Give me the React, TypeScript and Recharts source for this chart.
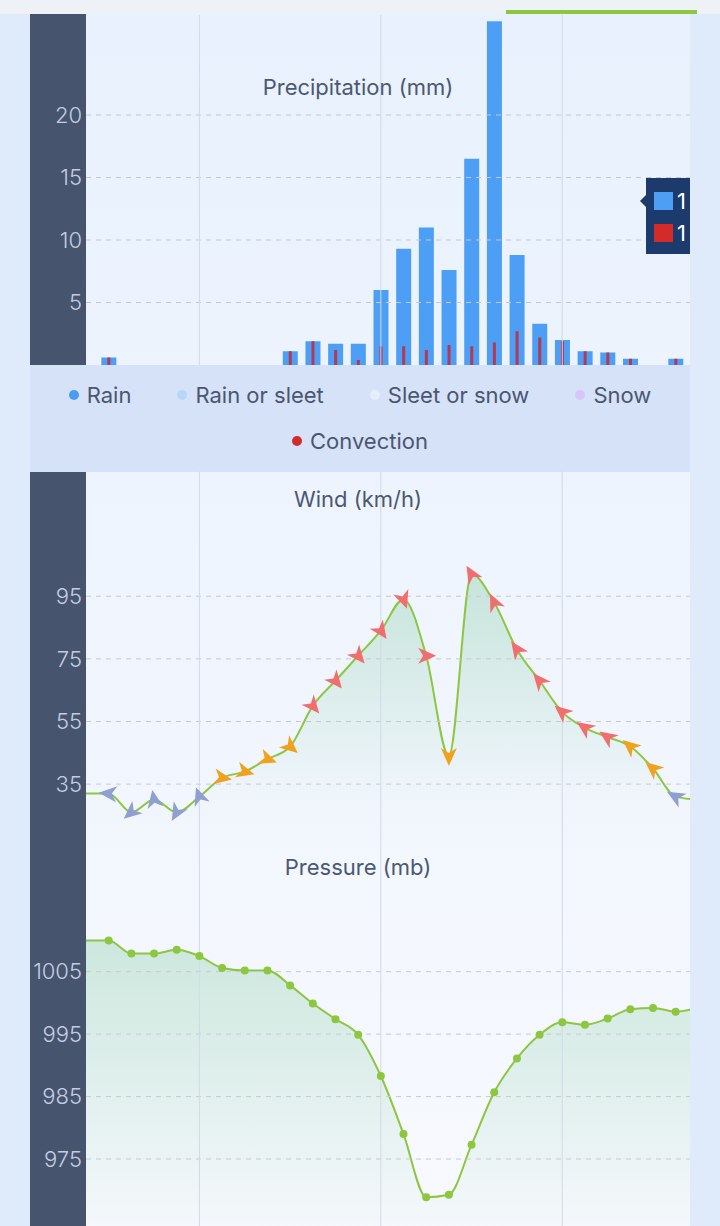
import {
  Area,
  AreaChart,
  Bar,
  BarChart,
  ReferenceLine,
  XAxis,
  YAxis,
} from "recharts";

// 3-hourly steps, 00:00 marks a new day
const hours = [
  "09:00", "12:00", "15:00", "18:00", "21:00", "00:00", "03:00",
  "06:00", "09:00", "12:00", "15:00", "18:00", "21:00", "00:00",
  "03:00", "06:00", "09:00", "12:00", "15:00", "18:00", "21:00",
  "00:00", "03:00", "06:00", "09:00", "12:00", "15:00", "18:00",
];
const rain = [
  0, 0.6, 0, 0, 0, 0, 0, 0, 0, 1.1, 1.9, 1.7, 1.7, 6.0, 9.3, 11.0, 7.6,
  16.5, 27.5, 8.8, 3.3, 2.0, 1.1, 1.0, 0.5, 0, 0.5, 0,
];
const convection = [
  0, 0.6, 0, 0, 0, 0, 0, 0, 0, 1.1, 1.9, 1.2, 0.4, 1.5, 1.5, 1.2, 1.6,
  1.5, 1.8, 2.7, 2.2, 1.9, 1.1, 1.0, 0.5, 0, 0.5, 0,
];
const windSpeed = [
  32, 32, 26, 30, 26, 31, 37, 39, 43, 47, 60, 68, 76, 84, 94, 76, 44,
  102, 93, 78, 68, 58, 53, 50, 47, 40, 31, 30,
];
// direction the arrow points to, degrees on screen (0 = right, 90 = down)
const windDir = [
  180, 185, 140, -100, 120, -110, 10, 15, 20, 40, 50, 50, 50, 55, 70, 0,
  90, -120, -115, -125, -130, -140, -145, -145, -140, -140, -150, -150,
];
const pressure = [
  1010, 1010, 1007.9, 1007.9, 1008.5, 1007.5, 1005.6, 1005.2, 1005.2,
  1002.8, 999.9, 997.4, 994.9, 988.3, 979.0, 968.9, 969.3, 977.3, 985.7,
  991.1, 994.9, 996.9, 996.5, 997.5, 999.0, 999.2, 998.6, 999.2,
];

const precipTicks = [5, 10, 15, 20];
const windTicks = [35, 55, 75, 95];
const pressureTicks = [975, 985, 995, 1005];

const legendItems = [
  { name: "Rain", color: "#4a9bf4" },
  { name: "Rain or sleet", color: "#b7d6f8" },
  { name: "Sleet or snow", color: "#e6eefc" },
  { name: "Snow", color: "#d7c6f6" },
  { name: "Convection", color: "#d32a2a" },
];

const rows = hours.map((time, i) => ({
  i,
  time,
  rain: rain[i],
  convection: convection[i],
  wind: windSpeed[i],
  dir: windDir[i],
  pressure: pressure[i],
}));
const steps = rows.map((r) => r.i);
const dayStarts = rows.filter((r) => r.time === "00:00").map((r) => r.i);

const STEP = 22.68;
const AXIS_W = 56;
const CHART_W = AXIS_W + STEP * (hours.length - 1);
const FONT = "Inter, 'Noto Sans', sans-serif";
const LINE = "#8dc63f";

const tickStyle = { fill: "#c3cde0", fontSize: 22, fontFamily: FONT, fontWeight: 300 };

const windColor = (v: number) => (v >= 48 ? "#f26d6d" : v >= 34 ? "#f2a11f" : "#8e9fd0");

const WindArrow = (props: any) => {
  const { cx, cy, index, payload } = props;
  if (!index || cx == null || cy == null) return <g key={"w" + index} />;
  return (
    <path
      key={"w" + index}
      d="M10,0 L-8,-8 L-3,0 L-8,8 Z"
      transform={`translate(${cx},${cy}) rotate(${payload.dir})`}
      fill={windColor(payload.wind)}
    />
  );
};

const PressureDot = (props: any) => {
  const { cx, cy, index } = props;
  if (!index || cx == null || cy == null) return <g key={"p" + index} />;
  return <circle key={"p" + index} cx={cx} cy={cy} r={4} fill={LINE} />;
};

const Title = ({ text, top }: { text: string; top: number }) => (
  <div
    style={{
      position: "absolute",
      left: 238,
      top,
      width: 240,
      textAlign: "center",
      fontFamily: FONT,
      fontSize: 22,
      lineHeight: "26px",
      color: "#4c5872",
    }}
  >
    {text}
  </div>
);

const box = (top: number, height: number): any => ({
  position: "absolute",
  left: 30,
  top,
  width: 660,
  height,
  overflow: "hidden",
});

// dashed value lines and the faint day separators
const gridLines = (ticks: number[], axisId?: string) => [
  ...ticks.map((t) => (
    <ReferenceLine
      key={"y" + t}
      y={t}
      xAxisId={axisId ?? 0}
      stroke="#c4cad4"
      strokeDasharray="5 5"
    />
  )),
  ...dayStarts.map((d) => (
    <ReferenceLine key={"x" + d} x={d} xAxisId={axisId ?? 0} stroke="#d1dae6" strokeWidth={1} />
  )),
];

const App = () => {
  return (
    <div
      style={{
        position: "absolute",
        left: 0,
        top: 0,
        width: 720,
        height: 1226,
        overflow: "hidden",
        background: "#dfebfb",
        fontFamily: FONT,
      }}
    >
      <div style={{ position: "absolute", left: 0, top: 0, width: 720, height: 14, background: "#eef2f7" }} />
      <div style={{ position: "absolute", left: 506, top: 10, width: 191, height: 4, background: LINE }} />
      <div
        style={{
          position: "absolute",
          left: 86,
          top: 14,
          width: 604,
          height: 1212,
          background: "linear-gradient(#e8f1fd, #f7f9fe)",
        }}
      />
      <div style={{ position: "absolute", left: 30, top: 14, width: 56, height: 1212, background: "#46546e" }} />

      {/* precipitation */}
      <div style={box(15, 350)}>
        <BarChart width={CHART_W} height={350} data={rows} margin={{ top: 0, right: 0, left: 0, bottom: 0 }}>
          <XAxis xAxisId="rain" dataKey="i" type="number" domain={[0, 27]} ticks={steps} hide />
          <XAxis xAxisId="conv" dataKey="i" type="number" domain={[0, 27]} ticks={steps} hide />
          <YAxis
            type="number"
            domain={[0, 28]}
            ticks={precipTicks}
            width={AXIS_W}
            axisLine={false}
            tickLine={false}
            tickSize={0}
            tickMargin={4}
            tick={tickStyle}
          />
          {gridLines(precipTicks, "rain")}
          <Bar xAxisId="rain" dataKey="rain" fill="#4d9ef5" barSize={15} isAnimationActive={false} />
          <Bar xAxisId="conv" dataKey="convection" fill="#b23a55" barSize={3} isAnimationActive={false} />
        </BarChart>
      </div>
      <Title text="Precipitation (mm)" top={74} />

      {/* hover label, cut by the chart edge */}
      <div style={{ position: "absolute", left: 630, top: 170, width: 60, height: 100, overflow: "hidden" }}>
        <div
          style={{
            position: "absolute",
            left: 10,
            top: 25,
            width: 0,
            height: 0,
            borderTop: "6px solid transparent",
            borderBottom: "6px solid transparent",
            borderRight: "6px solid #1d3a6c",
          }}
        />
        <div
          style={{
            position: "absolute",
            left: 16,
            top: 8,
            width: 90,
            height: 76,
            background: "#1d3a6c",
            color: "#fff",
            fontSize: 22,
            whiteSpace: "nowrap",
          }}
        >
          <div style={{ position: "absolute", left: 8, top: 14, width: 19, height: 18, background: "#4d9ef5" }} />
          <div style={{ position: "absolute", left: 31, top: 10, lineHeight: "26px" }}>1</div>
          <div style={{ position: "absolute", left: 8, top: 46, width: 19, height: 18, background: "#d32a2a" }} />
          <div style={{ position: "absolute", left: 31, top: 42, lineHeight: "26px" }}>1</div>
        </div>
      </div>

      {/* legend */}
      <div
        style={{
          position: "absolute",
          left: 30,
          top: 365,
          width: 660,
          height: 107,
          background: "#d5e2f8",
          boxSizing: "border-box",
          paddingTop: 18,
          display: "flex",
          flexWrap: "wrap",
          justifyContent: "center",
          columnGap: 46,
          rowGap: 22,
          alignContent: "flex-start",
        }}
      >
        {legendItems.map((it) => (
          <div key={it.name} style={{ display: "flex", alignItems: "center", height: 24 }}>
            <span
              style={{ width: 10, height: 10, borderRadius: 5, background: it.color, marginRight: 8, display: "inline-block" }}
            />
            <span style={{ fontSize: 22, lineHeight: "24px", color: "#4b5670" }}>{it.name}</span>
          </div>
        ))}
      </div>

      {/* wind */}
      <div style={box(471, 382)}>
        <AreaChart width={CHART_W} height={382} data={rows} margin={{ top: 0, right: 0, left: 0, bottom: 0 }}>
          <defs>
            <linearGradient id="windFill" x1="0" y1="0" x2="0" y2="1">
              <stop offset="0%" stopColor="#7fc79c" stopOpacity={0.6} />
              <stop offset="80%" stopColor="#7fc79c" stopOpacity={0.03} />
              <stop offset="100%" stopColor="#7fc79c" stopOpacity={0} />
            </linearGradient>
          </defs>
          <XAxis dataKey="i" type="number" domain={[0, 27]} ticks={steps} hide />
          <YAxis
            type="number"
            domain={[13, 135]}
            ticks={windTicks}
            width={AXIS_W}
            axisLine={false}
            tickLine={false}
            tickSize={0}
            tickMargin={4}
            tick={tickStyle}
          />
          {gridLines(windTicks)}
          <Area
            type="monotone"
            dataKey="wind"
            stroke={LINE}
            strokeWidth={2}
            fill="url(#windFill)"
            dot={WindArrow}
            activeDot={false}
            isAnimationActive={false}
          />
        </AreaChart>
      </div>
      <Title text="Wind (km/h)" top={486} />

      {/* pressure */}
      <div style={box(853, 381)}>
        <AreaChart width={CHART_W} height={381} data={rows} margin={{ top: 0, right: 0, left: 0, bottom: 0 }}>
          <defs>
            <linearGradient id="pressureFill" x1="0" y1="0" x2="0" y2="1">
              <stop offset="0%" stopColor="#7fc79c" stopOpacity={0.55} />
              <stop offset="100%" stopColor="#7fc79c" stopOpacity={0.02} />
            </linearGradient>
          </defs>
          <XAxis dataKey="i" type="number" domain={[0, 27]} ticks={steps} hide />
          <YAxis
            type="number"
            domain={[963, 1024]}
            ticks={pressureTicks}
            width={AXIS_W}
            axisLine={false}
            tickLine={false}
            tickSize={0}
            tickMargin={4}
            tick={tickStyle}
          />
          {gridLines(pressureTicks)}
          <Area
            type="monotone"
            dataKey="pressure"
            stroke={LINE}
            strokeWidth={2}
            fill="url(#pressureFill)"
            dot={PressureDot}
            activeDot={false}
            isAnimationActive={false}
          />
        </AreaChart>
      </div>
      <Title text="Pressure (mb)" top={854} />
    </div>
  );
};

export default App;
